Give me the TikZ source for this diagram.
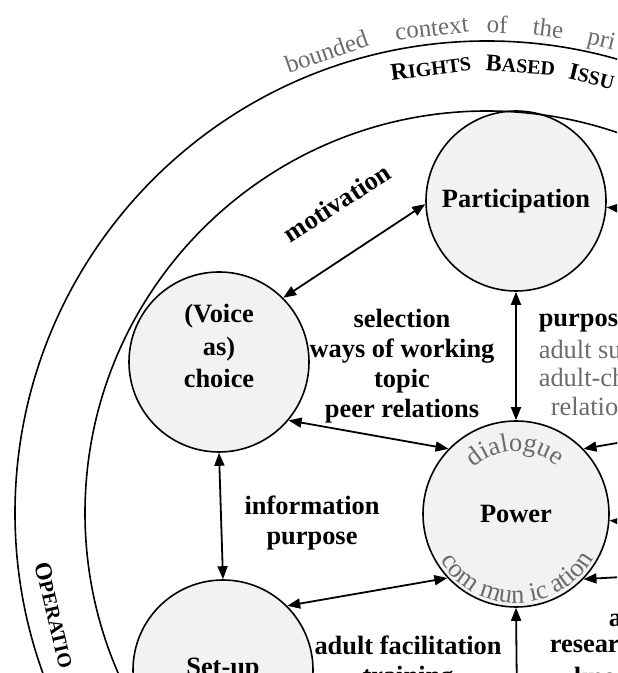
\documentclass[tikz,border=0pt]{standalone}
\usepackage{fontspec}
\setmainfont{Liberation Serif}
\usepackage{xcolor}
\usetikzlibrary{arrows.meta,decorations.text}

\definecolor{cellfill}{gray}{0.95}
\definecolor{notegray}{gray}{0.42}

\newcommand{\arcfont}{\fontsize{13.2}{15}\selectfont\color{notegray}}
\newcommand{\initcap}[1]{{\fontsize{12}{12}\selectfont #1}}

\begin{document}
\begin{tikzpicture}[x=0.5pt, y=0.5pt,
                    line width=0.8pt,
                    stage/.style={circle, draw, fill=cellfill,
                    minimum size=90pt, inner sep=0pt,
                    font=\fontsize{13.2}{15}\selectfont\bfseries},
                    lbl/.style={font=\fontsize{13.2}{15}\selectfont\bfseries, inner sep=0pt},
                    note/.style={font=\fontsize{13.2}{15}\selectfont, text=notegray, inner sep=0pt},
                    ctxword/.style={note, anchor=base, font=\fontsize{12.5}{15}\selectfont},
                    capword/.style={lbl, anchor=base, font=\fontsize{10}{12}\selectfont\bfseries},
                    link/.style={{Triangle[length=6.5pt,width=5pt]}-{Triangle[length=6.5pt,width=5pt]}, line width=0.9pt},
                    feed/.style={-{Triangle[length=6.5pt,width=5pt]}, line width=0.9pt},
                    ring/.style={line width=0.8pt}]
    \useasboundingbox (0,0) rectangle (617,673);
    \clip (0,0) rectangle (617,673);

    % the circles
    \node[stage] (part) at (516,472) {Participation};
    \node[stage] (voice) at (219,311) {};
    \node[lbl, align=center, font=\fontsize{13.2}{16.2}\selectfont\bfseries] (voicetxt) at (219,327) {(Voice\\as)\\choice};
    \node[stage, minimum size=93pt] (power) at (516,159) {Power};
    \node[stage] (setup) at (223,3) {Set-up};

    % context rings
    \coordinate (ctr) at (487,160);
    \draw[ring] (ctr) circle (472);
    \draw[ring] (ctr) circle (402);

    \foreach \w/\a [count=\i] in {bounded/109.2, context/96.5, of/88.8, the/82.8, pri/76.4}
        \node[ctxword, rotate=\a-90] (ctx\i) at ([shift={(ctr)}]\a:480) {\w};

    \node[capword, rotate=7.2] (rb1) at ([shift={(ctr)}]97.2:441) {\initcap{R}IGHTS};
    \node[capword, rotate=-4.3] (rb2) at ([shift={(ctr)}]85.7:441) {\initcap{B}ASED};
    \node[capword, rotate=-13.5] (rb3) at ([shift={(ctr)}]76.5:441) {\initcap{I}SSU};
    \node[capword, rotate=283.3] (op) at ([shift={(ctr)}]193.3:452) {\initcap{O}PERATIO};

    % text round power
    \path[decorate, decoration={text along path, text align=center,
        text={|\arcfont|dialogue}}] ([shift={(power.center)}]161:63) arc (161:21:63);
    \path[decorate, decoration={text along path, text align=center,
        text={|\arcfont|com mun ic ation}}] ([shift={(power.center)}]200:89) arc (200:342:89);

    % connectors
    \draw[link] (voice.45) -- (part.182);
    \draw[link] (part.south) -- (power.north);
    \draw[link] (voice.-40) -- (power.136);
    \draw[link] (voice.south) -- (setup.north);
    \draw[link] (setup.45) -- (power.223);

    \coordinate (inS) at (517,-30);
    \coordinate (inE1) at (640,234);
    \coordinate (inE2) at (640,150);
    \coordinate (inE3) at (640,97);
    \coordinate (inP) at (640,463);
    \draw[feed] (inS) -- (power.south);
    \draw[feed] (inE1) -- (power.44);
    \draw[feed] (inE2) -- (power.-4);
    \draw[feed] (inE3) -- (power.-44);
    \draw[feed] (inP) -- (part.-4);

    % labels
    \node[lbl, rotate=33] (motiv) at (337,470) {motivation};
    \node[lbl, align=center] (selw) at (402,307) {selection\\ways of working\\topic\\peer relations};
    \node[lbl, anchor=base west] (purp) at (538,346) {purpos};
    \node[note, anchor=base west] (supp) at (538,314) {adult su};
    \node[note, anchor=base west] (adch) at (538,286) {adult-ch};
    \node[note, anchor=base west] (rela) at (550,257) {relatio};
    \node[lbl, align=center] (infp) at (312,150) {information\\purpose};
    \node[lbl, align=center] (facil) at (408,10) {adult facilitation\\training};
    \node[lbl, anchor=base west] (ad) at (608,46) {a};
    \node[lbl, anchor=base west] (res) at (549,20) {resear};
    \node[lbl, anchor=base west] (kno) at (573,-12) {kno};
\end{tikzpicture}
\end{document}
